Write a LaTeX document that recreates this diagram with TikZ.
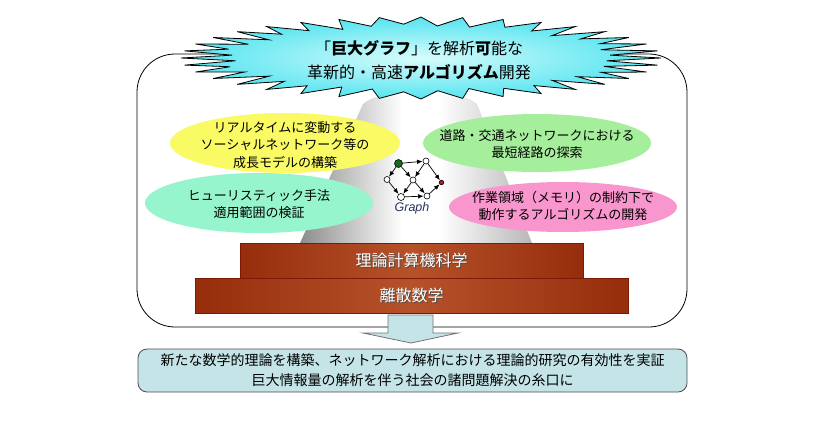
\documentclass[tikz,border=0pt]{standalone}
\usepackage{fontspec}
\newfontfamily\jp{Noto Sans CJK JP}
\newfontfamily\lat{Liberation Sans}
\usetikzlibrary{arrows.meta,shapes.geometric}
\definecolor{ylw}{RGB}{250,250,100}
\definecolor{mint}{RGB}{150,245,205}
\definecolor{lgrn}{RGB}{165,238,155}
\definecolor{pnk}{RGB}{248,150,205}
\definecolor{brA}{RGB}{150,45,12}
\definecolor{brB}{RGB}{182,82,42}
\definecolor{brEdge}{RGB}{125,25,5}
\definecolor{skyIn}{RGB}{215,252,252}
\definecolor{skyOut}{RGB}{85,228,240}
\definecolor{boxbl}{RGB}{196,228,232}
\definecolor{gnode}{RGB}{20,110,20}
\definecolor{rnode}{RGB}{200,20,20}
\definecolor{graphtxt}{RGB}{40,50,90}
\pgfdeclarehorizontalshading{brownsh}{100bp}{color(0bp)=(brA); color(25bp)=(brA); color(50bp)=(brB); color(75bp)=(brA); color(100bp)=(brA)}
\pgfdeclarehorizontalshading{conesh}{100bp}{color(0bp)=(black!45); color(25bp)=(black!45); color(47bp)=(white); color(55bp)=(white); color(75bp)=(black!28); color(100bp)=(black!28)}
\tikzset{
  blob/.style={ellipse, inner sep=0pt, draw=none},
  jtxt/.style={font={\jp\fontsize{13}{17.5}\selectfont}, align=center, inner sep=0pt},
  brownbox/.style={draw=brEdge, line width=0.8pt, shading=brownsh, inner sep=0pt},
  whitetxt/.style={font={\jp\fontsize{16}{19}\selectfont}, text=white, inner sep=0pt},
  shadowtxt/.style={font={\jp\fontsize{16}{19}\selectfont}, text=black!70, inner sep=0pt},
  gv/.style={circle, draw=black, line width=0.6pt, fill=white, inner sep=0pt, minimum size=6pt},
  ge/.style={-{Latex[length=5.5pt,width=4.5pt]}, line width=0.7pt, shorten >=0.2pt},
}
\begin{document}
\begin{tikzpicture}[x=1pt,y=-1pt]
\useasboundingbox (0,0) rectangle (826,423);
% outer frame
\draw[line width=0.8pt, rounded corners=38pt] (137,54) rectangle (687,327);
% cone
\shade[shading=conesh] (363,104) .. controls (385,86) and (455,86) .. (477,104) -- (532,243) -- (300,243) -- cycle;
% ellipses
\node[blob, fill=ylw, minimum width=230pt, minimum height=60pt] (e1) at (285,143) {};
\node[blob, fill=mint, minimum width=228pt, minimum height=60pt] (e2) at (259,203) {};
\node[blob, fill=lgrn, minimum width=228pt, minimum height=58pt] (e3) at (537,143) {};
\node[blob, fill=pnk, minimum width=228pt, minimum height=50pt] (e4) at (563,207) {};
\node[jtxt] (t1) at (285,145) {リアルタイムに変動する\\ソーシャルネットワーク等の\\成長モデルの構築};
\node[jtxt] (t2) at (259,204) {ヒューリスティック手法\\適用範囲の検証};
\node[jtxt] (t3) at (537,144) {道路・交通ネットワークにおける\\最短経路の探索};
\node[jtxt] (t4) at (563,206) {作業領域（メモリ）の制約下で\\動作するアルゴリズムの開発};
% graph
\node[gv, fill=gnode, minimum size=8pt] (g1) at (398.5,163.5) {};
\node[gv] (g2) at (426,161) {};
\node[gv] (g3) at (387,179.5) {};
\node[gv] (g4) at (413,180) {};
\node[gv, fill=rnode, minimum size=4.5pt] (g5) at (441.5,182.5) {};
\node[gv, minimum size=7pt] (g6) at (401,197) {};
\node[gv] (g7) at (427,196) {};
\draw[ge] (g1) -- (g2);
\draw[ge] (g1) -- (g3);
\draw[ge] (g1) -- (g4);
\draw[ge] (g2) -- (g4);
\draw[ge] (g2) -- (g5);
\draw[ge] (g3) -- (g6);
\draw[ge] (g4) -- (g6);
\draw[ge] (g4) -- (g7);
\draw[ge] (g6) -- (g7);
\draw[ge] (g7) -- (g5);
\node[font={\lat\itshape\fontsize{12.5}{14}\selectfont}, text=graphtxt, inner sep=0pt] (gl) at (412,208) {Graph};
% brown boxes
\node[brownbox, minimum width=343pt, minimum height=35pt] (tcs) at (411.5,260.5) {};
\node[brownbox, minimum width=433pt, minimum height=35pt] (dm) at (411.5,295.5) {};
\node[shadowtxt] at ([shift={(1.2,1.2)}]tcs.center) {理論計算機科学};
\node[whitetxt] (tcst) at (tcs.center) {理論計算機科学};
\node[shadowtxt] at ([shift={(1.2,1.2)}]dm.center) {離散数学};
\node[whitetxt] (dmt) at (dm.center) {離散数学};
% starburst
\begin{scope}[shift={(421,58)}]
\shade[inner color=skyIn, outer color=skyOut, draw=black, line width=0.8pt, line join=miter]
  (0:240 and 41) \foreach \i in {1,...,71} { -- ({\i*5}:{240*(1-(0.2+0.03*sin(\i*53))*mod(\i,2))} and {41*(1-(0.2+0.03*sin(\i*53))*mod(\i,2))}) } -- cycle;
\end{scope}
\node[font={\jp\fontsize{16}{24}\selectfont}, align=center, inner sep=0pt] (title) at (419,60) {「\textbf{巨大グラフ}」を解析\textbf{可}能な\\革新的・高速\textbf{アルゴリズム}開発};
% down arrow
\draw[fill=boxbl, draw=black!55, line width=0.8pt] (388,315) -- (433,315) -- (433,333) -- (458,333) -- (411,343) -- (363,333) -- (388,333) -- cycle;
% bottom box
\node[draw=black!70, line width=0.8pt, fill=boxbl, rounded corners=9pt, minimum width=549pt, minimum height=43pt, inner sep=0pt] (res) at (412.5,370.5) {};
\node[font={\jp\fontsize{14}{20}\selectfont}, align=center, inner sep=0pt] (rest) at (res.center) {新たな数学的理論を構築、ネットワーク解析における理論的研究の有効性を実証\\巨大情報量の解析を伴う社会の諸問題解決の糸口に};
\end{tikzpicture}
\end{document}
